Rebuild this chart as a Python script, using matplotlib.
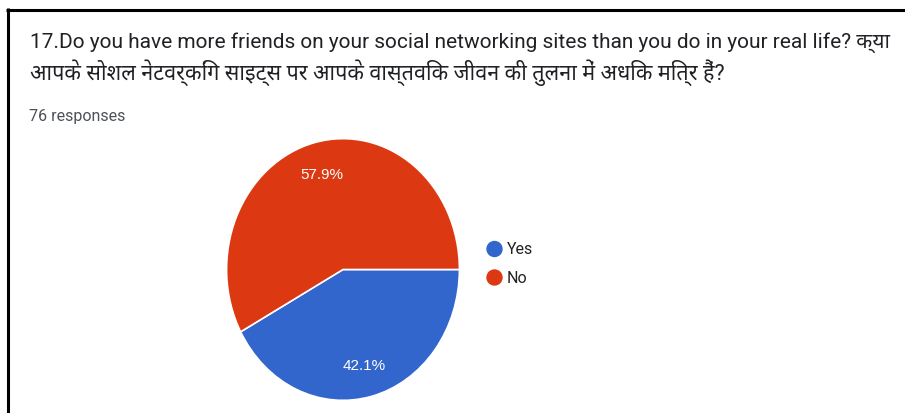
import matplotlib
matplotlib.use("Agg")
import matplotlib.pyplot as plt
from matplotlib.lines import Line2D
from matplotlib.patches import Ellipse

# Survey question and answers
question_en = "17.Do you have more friends on your social networking sites than you do in your real life? "
question_hi_1 = "क्या"
question_hi_2 = "आपके सोशल नेटवर्किंग साइट्स पर आपके वास्तविक जीवन की तुलना में अधिक मित्र हैं?"
response_count = 76
answers = ["Yes", "No"]
shares = [42.1, 57.9]
colors = ["#3366cc", "#dc3912"]

W, H = 905, 414
fig = plt.figure(figsize=(W / 100, H / 100), dpi=100)
fig.patch.set_facecolor("white")

def fx(px):
    return px / W

def fy(py):
    return 1 - py / H

TITLE_FONT = ["Roboto", "Noto Sans Devanagari", "Noto Sans Devanagari UI", "Hind", "DejaVu Sans"]
title_color = "#202124"

# Frame lines (left and top)
fig.add_artist(Line2D([fx(7.5), fx(7.5)], [fy(9), fy(H + 2)], color="black", lw=2.2,
                      transform=fig.transFigure, solid_capstyle="butt"))
fig.add_artist(Line2D([fx(6), fx(W + 2)], [fy(10.5), fy(10.5)], color="black", lw=2.2,
                      transform=fig.transFigure, solid_capstyle="butt"))

# Question text
fig.text(fx(30), fy(48), question_en + question_hi_1, family=TITLE_FONT, fontsize=15,
         color=title_color, ha="left", va="baseline")
fig.text(fx(30), fy(80), question_hi_2, family=TITLE_FONT, fontsize=15.5,
         color=title_color, ha="left", va="baseline")
fig.text(fx(29), fy(121), f"{response_count} responses", family=["Roboto", "DejaVu Sans"],
         fontsize=11.5, color="#4d5156", ha="left", va="baseline")

# Pie (slightly stretched vertically)
left, right, top, bottom = 226, 460, 139, 402
ax = fig.add_axes([fx(left), fy(bottom), fx(right) - fx(left), fy(top) - fy(bottom)])
wedges, texts, autotexts = ax.pie(
    shares, colors=colors, startangle=0, counterclock=False,
    autopct=lambda p: f"{p:.1f}%", pctdistance=0.75,
    wedgeprops=dict(edgecolor="white", linewidth=1.2),
    textprops=dict(color="white", fontsize=11, family=["Liberation Sans", "DejaVu Sans"]),
)
ax.set_aspect("auto")
ax.set_xlim(-1.005, 1.005)
ax.set_ylim(-1.005, 1.005)
ax.axis("off")

# Legend
r = 7.5
for i, (name, col) in enumerate(zip(answers, colors)):
    cy = 250 + i * 28.5
    fig.add_artist(Ellipse((fx(494.5), fy(cy)), 2 * r / W, 2 * r / H, color=col,
                           transform=fig.transFigure))
    fig.text(fx(507), fy(cy), name, family=["Roboto", "DejaVu Sans"],
             fontsize=11.5, color="#222222", ha="left", va="center")

fig.savefig("out.png", dpi=100, facecolor="white")
